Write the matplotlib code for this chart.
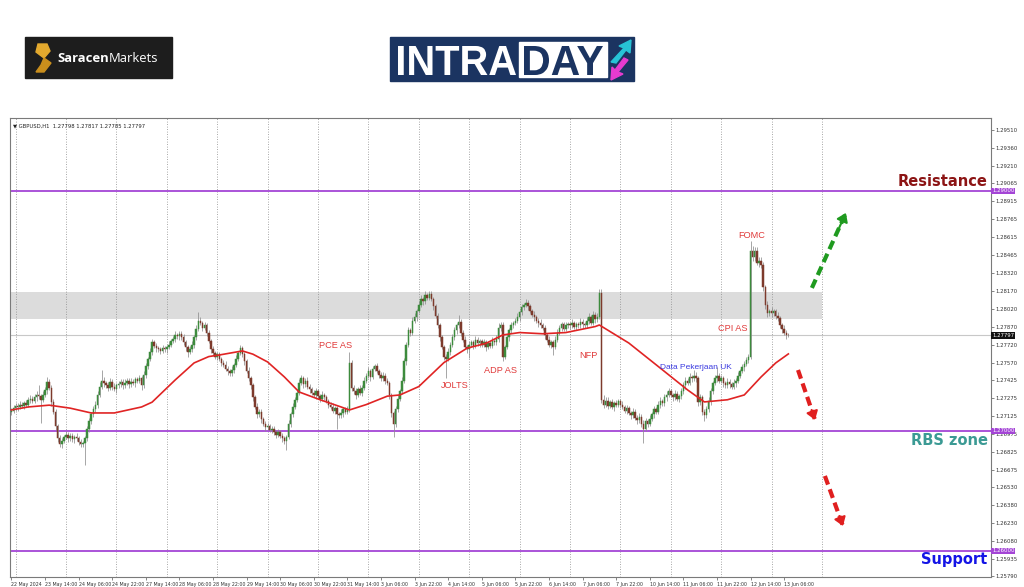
import numpy as np
import matplotlib
matplotlib.use("Agg")
import matplotlib.pyplot as plt
from matplotlib.patches import Rectangle, Polygon, PathPatch
from matplotlib.textpath import TextPath
from matplotlib.font_manager import FontProperties
from matplotlib.transforms import Affine2D

# ---------------- data (prices in pips above 1.2700) ----------------
first_open_pips = 16
close_pips = [
    17, 19, 21, 20, 22, 21, 23, 22, 26, 27,
    25, 28, 30, 29, 26, 30, 34, 41, 36, 24,
    16, 4, -6, -11, -8, -5, -3, -6, -4, -7,
    -5, -6, -9, -11, -10, -6, 2, 8, 14, 18,
    22, 30, 37, 42, 40, 38, 36, 41, 37, 35,
    38, 39, 41, 38, 40, 42, 39, 41, 40, 43,
    42, 44, 38, 47, 54, 60, 66, 74, 71, 69,
    68, 67, 69, 68, 70, 72, 75, 77, 80, 79,
    81, 78, 74, 70, 66, 68, 72, 78, 85, 92,
    90, 86, 88, 82, 75, 68, 65, 62, 64, 60,
    57, 55, 52, 50, 48, 51, 55, 60, 65, 69,
    64, 58, 50, 44, 38, 28, 20, 14, 16, 10,
    6, 3, 4, 1, 2, -1, -3, -1, -4, -6,
    -8, -5, 6, 14, 20, 26, 32, 40, 44, 39,
    42, 37, 35, 32, 30, 33, 29, 27, 30, 28,
    25, 22, 20, 17, 19, 14, 13, 15, 18, 16,
    18, 57, 36, 33, 30, 35, 32, 36, 42, 46,
    50, 45, 52, 54, 50, 47, 44, 46, 42, 40,
    30, 15, 6, 18, 27, 33, 42, 58, 72, 84,
    82, 92, 95, 100, 105, 110, 108, 113, 111, 114,
    110, 104, 96, 88, 78, 70, 62, 60, 66, 72,
    78, 84, 88, 91, 82, 76, 70, 68, 72, 74,
    71, 76, 73, 75, 72, 74, 70, 73, 71, 75,
    74, 77, 86, 88, 62, 70, 78, 84, 88, 90,
    92, 95, 99, 103, 105, 107, 104, 100, 97, 95,
    92, 90, 88, 86, 80, 76, 72, 74, 70, 76,
    82, 86, 89, 85, 88, 89, 88, 90, 87, 89,
    88, 91, 89, 88, 92, 95, 90, 97, 93, 95,
    115, 26, 22, 25, 21, 24, 20, 23, 22, 25,
    22, 20, 17, 19, 15, 13, 16, 11, 9, 12,
    6, 2, 8, 6, 10, 14, 18, 16, 22, 25,
    23, 28, 30, 33, 30, 28, 31, 27, 29, 33,
    38, 42, 40, 45, 44, 46, 44, 24, 28, 16,
    13, 18, 25, 33, 40, 44, 46, 42, 44, 40,
    38, 41, 39, 37, 40, 42, 46, 50, 53, 56,
    59, 62, 150, 145, 150, 140, 142, 138, 120, 105,
    98, 100, 98, 100, 96, 94, 88, 85, 82, 79.8, 79.7,
]
upper_wick = [
    2, 3, 2, 2, 3, 2, 2, 3, 2, 3,
    2, 3, 3, 8, 2, 3, 3, 4, 2, 2,
    3, 2, 2, 3, 2, 2, 3, 2, 2, 2,
    2, 3, 2, 2, 2, 2, 2, 3, 2, 3,
    3, 3, 4, 9, 3, 2, 3, 3, 2, 3,
    2, 3, 2, 2, 3, 2, 2, 3, 2, 2,
    2, 3, 2, 3, 3, 2, 3, 3, 2, 2,
    2, 2, 3, 2, 2, 3, 2, 2, 3, 2,
    2, 2, 3, 2, 2, 3, 3, 2, 3, 7,
    3, 2, 3, 2, 2, 2, 3, 2, 2, 2,
    2, 2, 3, 2, 2, 3, 2, 3, 2, 3,
    2, 2, 2, 3, 2, 2, 2, 3, 2, 2,
    2, 2, 3, 2, 2, 2, 2, 3, 2, 2,
    2, 2, 3, 2, 3, 2, 3, 3, 3, 2,
    2, 3, 2, 2, 2, 3, 2, 2, 3, 2,
    2, 2, 2, 3, 2, 2, 2, 3, 2, 2,
    3, 9, 2, 2, 3, 2, 3, 2, 3, 2,
    3, 2, 2, 2, 3, 2, 2, 3, 2, 2,
    2, 2, 2, 3, 3, 2, 3, 3, 2, 3,
    2, 3, 3, 2, 3, 3, 2, 4, 2, 3,
    3, 2, 2, 2, 2, 2, 2, 2, 3, 2,
    3, 3, 2, 6, 2, 2, 3, 2, 3, 2,
    2, 3, 2, 2, 2, 3, 2, 2, 2, 3,
    2, 3, 4, 3, 3, 2, 3, 2, 3, 2,
    2, 3, 2, 3, 2, 3, 2, 2, 2, 3,
    2, 2, 3, 2, 2, 2, 3, 2, 2, 3,
    3, 2, 2, 2, 3, 2, 2, 3, 2, 2,
    2, 3, 2, 2, 3, 3, 2, 3, 2, 3,
    3, 3, 4, 3, 3, 2, 3, 2, 3, 2,
    2, 3, 2, 3, 2, 2, 3, 2, 2, 3,
    2, 3, 3, 2, 3, 2, 3, 2, 3, 3,
    2, 3, 3, 3, 2, 2, 3, 2, 2, 3,
    3, 3, 2, 3, 2, 5, 3, 2, 3, 2,
    2, 3, 3, 3, 2, 3, 7, 2, 3, 2,
    2, 3, 2, 2, 3, 2, 3, 2, 3, 2,
    3, 2, 8, 4, 3, 3, 3, 3, 3, 2,
    3, 2, 3, 2, 2, 3, 2, 2, 3, 2, 1.9,
]
lower_wick = [
    3, 2, 2, 3, 2, 2, 3, 2, 2, 3,
    2, 2, 3, 2, 19, 2, 2, 3, 2, 3,
    2, 3, 3, 2, 3, 2, 2, 3, 2, 2,
    3, 2, 3, 2, 2, 18, 2, 3, 2, 2,
    2, 3, 2, 2, 3, 2, 3, 2, 3, 2,
    3, 2, 2, 3, 2, 2, 3, 2, 2, 3,
    2, 2, 4, 2, 3, 2, 2, 3, 2, 3,
    2, 3, 2, 2, 3, 2, 2, 2, 3, 2,
    3, 2, 2, 3, 4, 2, 2, 3, 2, 2,
    2, 3, 2, 3, 2, 3, 2, 2, 3, 2,
    3, 2, 2, 3, 2, 2, 3, 2, 2, 2,
    2, 3, 2, 2, 3, 3, 2, 3, 2, 3,
    2, 3, 2, 2, 3, 2, 3, 2, 2, 3,
    3, 8, 2, 3, 2, 2, 2, 2, 2, 3,
    2, 2, 3, 2, 2, 3, 2, 3, 2, 2,
    2, 3, 2, 2, 3, 12, 2, 2, 3, 2,
    2, 2, 3, 2, 3, 2, 2, 3, 2, 2,
    2, 3, 2, 2, 2, 3, 2, 2, 3, 2,
    3, 3, 11, 3, 2, 2, 2, 2, 3, 2,
    3, 2, 2, 3, 2, 2, 3, 2, 2, 2,
    2, 3, 2, 2, 3, 2, 3, 16, 2, 3,
    2, 2, 3, 2, 3, 2, 2, 3, 7, 2,
    3, 2, 2, 3, 2, 2, 3, 2, 2, 2,
    2, 2, 3, 3, 4, 2, 2, 3, 2, 2,
    2, 2, 3, 2, 2, 2, 3, 2, 2, 3,
    2, 3, 2, 2, 3, 2, 2, 3, 7, 2,
    2, 2, 3, 2, 2, 2, 3, 2, 2, 3,
    2, 2, 3, 2, 2, 3, 2, 2, 3, 2,
    2, 3, 3, 2, 3, 2, 2, 3, 2, 2,
    3, 2, 2, 3, 2, 3, 2, 2, 3, 2,
    3, 12, 2, 3, 2, 2, 3, 2, 2, 3,
    2, 2, 3, 2, 2, 3, 2, 2, 3, 2,
    2, 3, 2, 2, 3, 2, 3, 3, 2, 3,
    5, 2, 2, 3, 2, 2, 3, 2, 2, 3,
    2, 2, 3, 2, 2, 3, 2, 2, 2, 3,
    2, 2, 2, 3, 3, 2, 3, 2, 3, 3,
    3, 2, 3, 2, 3, 2, 2, 3, 2, 3, 1.2,
]

# moving average: (bar index, pips above 1.2700)
ma_bars = [0, 8, 18, 28, 38, 49, 62, 67, 78, 87, 94, 99, 110, 115, 122, 130, 137,
           147, 157, 161, 169, 179, 185, 194, 206, 217, 226, 234, 242, 253, 264,
           278, 280, 294, 310, 322, 330, 341, 349, 357, 364, 370]
ma_pips = [17.5, 20, 21.5, 19, 15, 15, 20, 24, 42.5, 56.7, 62, 63.3, 66.7, 64, 57.5,
           45, 32.5, 26, 20, 17.5, 22, 29, 30, 37, 57, 69, 73, 80, 82, 81, 82,
           87, 88.3, 73.3, 51, 34.2, 24.2, 26, 30, 45, 56.7, 64.2]

time_labels = ["22 May 2024", "23 May 14:00", "24 May 06:00", "24 May 22:00",
               "27 May 14:00", "28 May 06:00", "28 May 22:00", "29 May 14:00",
               "30 May 06:00", "30 May 22:00", "31 May 14:00", "3 Jun 06:00",
               "3 Jun 22:00", "4 Jun 14:00", "5 Jun 06:00", "5 Jun 22:00",
               "6 Jun 14:00", "7 Jun 06:00", "7 Jun 22:00", "10 Jun 14:00",
               "11 Jun 06:00", "11 Jun 22:00", "12 Jun 14:00", "13 Jun 06:00"]
price_ticks = [1.29510, 1.29360, 1.29210, 1.29065, 1.28915, 1.28765, 1.28615,
               1.28465, 1.28320, 1.28170, 1.28020, 1.27870, 1.27720, 1.27570,
               1.27425, 1.27275, 1.27125, 1.26975, 1.26825, 1.26675, 1.26530,
               1.26380, 1.26230, 1.26080, 1.25935, 1.25790]

level_prices = [1.29000, 1.27000, 1.26000]
level_names = ["Resistance", "RBS zone", "Support"]
level_colors = ["#8c1414", "#3b9a94", "#1414e6"]
zone_low, zone_high = 1.2793, 1.2816
current_price = 1.27797
header = "\u25bc GBPUSD,H1  1.27798 1.27817 1.27785 1.27797"

event_names = ["PCE AS", "JOLTS", "ADP AS", "NFP", "Data Pekerjaan UK", "FOMC", "CPI AS"]
event_bars = [154.6, 211.2, 232.7, 274.6, 326.0, 352.7, 343.6]
event_prices = [1.27708, 1.27375, 1.27500, 1.27633, 1.27525, 1.28625, 1.27850]
event_colors = ["#e03a3a", "#e03a3a", "#e03a3a", "#e03a3a", "#3a3ae0", "#e03a3a", "#e03a3a"]

# scenario arrows: (bar0, price0, bar1, price1)
arrow_up = (381.2, 1.28192, 397.4, 1.28817)
arrow_dn1 = (374.6, 1.27508, 382.7, 1.27092)
arrow_dn2 = (387.4, 1.26625, 396.0, 1.26208)

# ---------------- derived OHLC ----------------
close = 1.27 + np.array(close_pips, dtype=float) / 1e4
open_ = np.r_[1.27 + first_open_pips / 1e4, close[:-1]]
high = np.maximum(open_, close) + np.array(upper_wick, dtype=float) / 1e4
low = np.minimum(open_, close) - np.array(lower_wick, dtype=float) / 1e4
bars = np.arange(len(close))
ma_price = 1.27 + np.array(ma_pips) / 1e4

# ---------------- figure ----------------
W, H = 1024, 587
fig = plt.figure(figsize=(W / 100, H / 100), dpi=100)
fig.patch.set_facecolor("white")

# overlay for the logos (pixel coordinates)
ov = fig.add_axes([0, 0, 1, 1])
ov.set_xlim(0, W)
ov.set_ylim(H, 0)
ov.axis("off")


def fit_text(s, x0, x1, ytop, ybot, color, family="Liberation Sans", weight="bold"):
    tp = TextPath((0, 0), s, size=1, prop=FontProperties(family=family, weight=weight))
    ext = tp.get_extents()
    sx = (x1 - x0) / ext.width
    sy = (ybot - ytop) / ext.height
    tr = Affine2D().translate(-ext.x0, -ext.y0).scale(sx, -sy).translate(x0, ybot)
    ov.add_patch(PathPatch(tr.transform_path(tp), color=color, lw=0))


# Saracen Markets logo
ov.add_patch(Rectangle((25, 37), 147, 41, color="#1d1d1d"))
gold = "#e3a92e"
ov.add_patch(Polygon([(38, 44), (47, 44), (50, 51), (44, 58), (36, 52)], closed=True, color=gold))
ov.add_patch(Polygon([(44, 58), (51, 63), (44, 72), (36, 72), (41, 65)], closed=True, color="#c98e1c"))
ov.text(57, 58, "Saracen", color="white", fontsize=9.4, fontweight="bold",
        family=["Open Sans", "DejaVu Sans"], va="center", ha="left")
ov.text(109, 58, "Markets", color="white", fontsize=9.4,
        family=["Open Sans", "DejaVu Sans"], va="center", ha="left")

# INTRADAY logo
navy = "#1b3461"
ov.add_patch(Rectangle((390, 37), 244, 44, color=navy))
ov.add_patch(Rectangle((519, 42), 88, 35, color="white"))
fit_text("INTRA", 398, 516, 46, 75, "white")
fit_text("DAY", 524, 603, 46, 75, navy)
ov.add_patch(Polygon([(611, 62), (624, 48), (619, 46), (631, 40), (630, 53), (626, 50), (616, 63)],
                     closed=True, color="#27c3d6"))
ov.add_patch(Polygon([(628, 60), (618, 72), (623, 74), (611, 80), (612, 67), (615, 70), (624, 58)],
                     closed=True, color="#e63bcf"))

# ---------------- chart ----------------
ax = fig.add_axes([10 / W, 1 - 577 / H, 981 / W, 459 / H])
ax.set_xlim(-0.67, 466.5)
ax.set_ylim(1.25783, 1.29608)
ax.set_facecolor("white")
for s in ax.spines.values():
    s.set_color("#7a7a7a")
    s.set_linewidth(0.8)

# day separators
for b in range(2, 387, 24):
    ax.axvline(b, color="#8a8a8a", lw=0.6, ls=(0, (1, 2)), zorder=1)

# zone
ax.add_patch(Rectangle((-2, zone_low), 388, zone_high - zone_low, color="#dcdcdc", zorder=0.5, lw=0))

# level lines
for lv in level_prices:
    ax.axhline(lv, color="#a445d6", lw=1.3, zorder=2)
ax.axhline(current_price, color="#c8c8c8", lw=0.8, zorder=1.5)

# candles
up = close >= open_
ax.vlines(bars, low, high, color="#8e8e8e", lw=0.55, zorder=3)
body_colors = np.where(up, "#3d8b3d", "#7d3a2c")
ax.bar(bars, close - open_, bottom=open_, width=0.7, color=body_colors,
       edgecolor=body_colors, linewidth=0.35, zorder=4)

# moving average
ax.plot(ma_bars, ma_price, color="#e02424", lw=1.2, zorder=5)

# event labels
for name, b, p, c in zip(event_names, event_bars, event_prices, event_colors):
    fs = 6 if name.startswith("Data") else 6.6
    ax.text(b, p, name, color=c, fontsize=fs, family=["Liberation Sans", "DejaVu Sans"],
            ha="center", va="center", zorder=6)

# level names
name_y = [1.29075, 1.26917, 1.25925]
for name, y, c in zip(level_names, name_y, level_colors):
    ax.text(0.9965, y, name, transform=ax.get_yaxis_transform(), color=c, fontsize=10.5,
            fontweight="heavy", family="DejaVu Sans", ha="right", va="center", zorder=7)


# arrows
def dashed_arrow(seg, color):
    x0, y0, x1, y1 = seg
    ax.plot([x0, x1], [y0, y1], color=color, lw=3, ls=(0, (2.2, 1.2)), zorder=6,
            solid_capstyle="butt")
    ax.annotate("", xy=(x1, y1), xytext=(x0 + (x1 - x0) * 0.8, y0 + (y1 - y0) * 0.8),
                arrowprops=dict(arrowstyle="-|>,head_length=0.5,head_width=0.35",
                                color=color, lw=1.5, shrinkA=0, shrinkB=0), zorder=6)


dashed_arrow(arrow_up, "#1f9a1f")
dashed_arrow(arrow_dn1, "#e01f1f")
dashed_arrow(arrow_dn2, "#e01f1f")

# header text
ax.text(0.003, 0.988, header, transform=ax.transAxes, fontsize=3.8, color="#222222",
        ha="left", va="top", zorder=7)

# price axis
ax.yaxis.tick_right()
ax.set_yticks(price_ticks)
ax.set_yticklabels([f"{p:.5f}" for p in price_ticks], fontsize=3.9, color="#333333")
ax.tick_params(axis="y", length=2, width=0.5, color="#555555", pad=1.5)

# level / price boxes on the axis
for lv in level_prices:
    ax.text(1.001, lv, f"{lv:.5f}", transform=ax.get_yaxis_transform(), fontsize=3.9,
            color="white", ha="left", va="center", zorder=8, clip_on=False,
            bbox=dict(boxstyle="square,pad=0.15", fc="#a445d6", ec="none"))
ax.text(1.001, current_price, f"{current_price:.5f}", transform=ax.get_yaxis_transform(),
        fontsize=3.9, color="white", ha="left", va="center", zorder=8, clip_on=False,
        bbox=dict(boxstyle="square,pad=0.15", fc="#111111", ec="none"))

# time axis
ax.set_xticks(np.arange(0, 16 * len(time_labels), 16))
ax.set_xticklabels(time_labels, fontsize=3.45, color="#333333", ha="left")
ax.tick_params(axis="x", length=2, width=0.5, color="#555555", pad=1.5)

fig.savefig("out.png", dpi=100, facecolor="white")
